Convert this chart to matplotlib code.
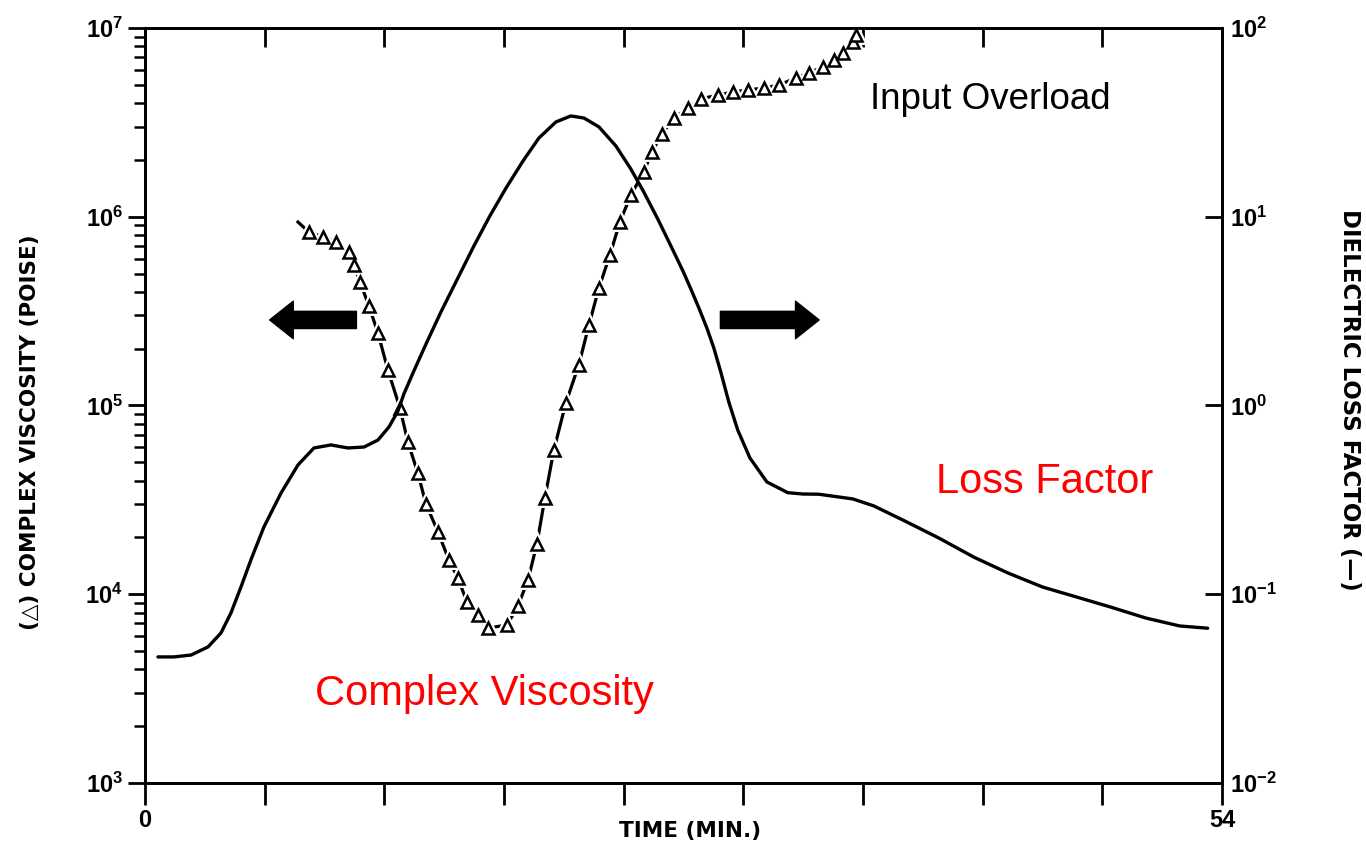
import math
import matplotlib
matplotlib.use("Agg")
import matplotlib.pyplot as plt
from matplotlib.ticker import LogLocator, FixedLocator, FuncFormatter, NullLocator

plt.rcParams['font.family'] = ['Liberation Sans', 'DejaVu Sans']
plt.rcParams['mathtext.fontset'] = 'custom'
plt.rcParams['mathtext.rm'] = 'Liberation Sans:bold'
plt.rcParams['mathtext.bf'] = 'Liberation Sans:bold'

# complex viscosity (poise) vs time (min), triangle data points
visc_time = [8.22, 8.92, 9.57, 10.23, 10.48, 10.78, 11.23, 11.68, 12.18, 12.78,
             13.18, 13.68, 14.09, 14.69, 15.24, 15.69, 16.14, 16.69, 17.19, 18.15,
             18.70, 19.20, 19.65, 20.05, 20.50, 21.10, 21.75, 22.26, 22.76, 23.31,
             23.81, 24.36, 25.01, 25.41, 25.91, 26.52, 27.22, 27.87, 28.72, 29.47,
             30.23, 31.03, 31.78, 32.63, 33.28, 33.98, 34.54, 34.99, 35.49, 35.64]
visc_log = [5.919, 5.893, 5.866, 5.813, 5.744, 5.654, 5.527, 5.384, 5.188, 4.987,
            4.807, 4.642, 4.478, 4.330, 4.181, 4.086, 3.959, 3.890, 3.821, 3.837,
            3.938, 4.075, 4.266, 4.510, 4.764, 5.013, 5.215, 5.427, 5.623, 5.797,
            5.972, 6.115, 6.237, 6.343, 6.438, 6.523, 6.576, 6.624, 6.645, 6.661,
            6.672, 6.682, 6.698, 6.735, 6.762, 6.793, 6.830, 6.868, 6.926, 6.963]
visc = [10 ** v for v in visc_log]
visc_start = (7.67, 10 ** 5.972)

# dielectric loss factor (-) vs time (min), continuous trace
loss_time = [0.65, 1.45, 2.31, 3.16, 3.81, 4.31, 4.81, 5.31, 5.96, 6.82,
             7.67, 8.47, 9.32, 10.18, 10.98, 11.68, 12.23, 12.68, 12.98, 13.48,
             14.09, 14.84, 15.69, 16.49, 17.29, 18.10, 18.95, 19.75, 20.60, 21.35,
             22.01, 22.76, 23.61, 24.36, 25.01, 25.71, 26.37, 26.97, 27.37, 27.77,
             28.17, 28.52, 28.87, 29.27, 29.72, 30.33, 31.18, 32.23, 33.00, 33.78,
             35.49, 36.54, 38.10, 39.80, 41.55, 43.26, 45.01, 46.72, 48.42, 50.18,
             51.88, 53.28]
loss_log = [-1.332, -1.332, -1.322, -1.279, -1.205, -1.099, -0.962, -0.818, -0.644, -0.464,
            -0.315, -0.225, -0.209, -0.225, -0.220, -0.183, -0.114, -0.030, 0.061, 0.183,
            0.326, 0.496, 0.676, 0.845, 1.004, 1.152, 1.295, 1.417, 1.502, 1.534,
            1.523, 1.476, 1.375, 1.253, 1.131, 0.988, 0.845, 0.713, 0.617, 0.517,
            0.411, 0.305, 0.177, 0.019, -0.130, -0.278, -0.405, -0.462, -0.469, -0.470,
            -0.495, -0.532, -0.612, -0.702, -0.803, -0.887, -0.962, -1.015, -1.068, -1.126,
            -1.168, -1.180]
loss = [10 ** v for v in loss_log]

time_ticks = [0, 6, 12, 18, 24, 30, 36, 42, 48, 54]

fig = plt.figure(figsize=(13.66, 8.46), dpi=100)
ax = fig.add_axes([145 / 1366, 1 - 783 / 846, (1222 - 145) / 1366, (783 - 28) / 846])
ax2 = ax.twinx()

ax.set_xlim(0, 54)
ax.set_yscale('log')
ax.set_ylim(1e3, 1e7)
ax2.set_yscale('log')
ax2.set_ylim(1e-2, 1e2)

# viscosity: line broken around each open triangle
ax.plot([visc_start[0]] + visc_time, [visc_start[1]] + visc, color='black', lw=2.3,
        zorder=3)
ax.plot(visc_time, visc, ls='none', marker='^', ms=9, mfc='white', mec='white',
        mew=5, zorder=4)
ax.plot(visc_time, visc, ls='none', marker='^', ms=9, mfc='white', mec='black',
        mew=1.8, zorder=5)

# loss factor
ax2.plot(loss_time, loss, color='black', lw=2.4, solid_capstyle='round',
         solid_joinstyle='round')

for s in ax.spines.values():
    s.set_linewidth(2)
for s in ax2.spines.values():
    s.set_linewidth(2)

fmt = FuncFormatter(lambda v, p: r'$\mathbf{10^{%d}}$' % round(math.log10(v)))
ax.yaxis.set_major_locator(LogLocator(base=10, numticks=10))
ax.yaxis.set_minor_locator(LogLocator(base=10, subs=range(2, 10), numticks=20))
ax.yaxis.set_major_formatter(fmt)
ax.yaxis.set_minor_formatter(FuncFormatter(lambda v, p: ''))
ax.tick_params(axis='y', which='major', direction='out', length=12, width=2,
               labelsize=17, pad=4)
ax.tick_params(axis='y', which='minor', direction='out', length=8, width=1.8)

ax2.yaxis.set_major_locator(LogLocator(base=10, numticks=10))
ax2.yaxis.set_minor_locator(NullLocator())
ax2.yaxis.set_major_formatter(fmt)
ax2.tick_params(axis='y', which='major', direction='in', length=12, width=2,
                labelsize=17, pad=6)

ax.xaxis.set_major_locator(FixedLocator(time_ticks))
ax.xaxis.set_major_formatter(FuncFormatter(
    lambda v, p: '%d' % v if v in (0, 54) else ''))
ax.tick_params(axis='x', which='major', direction='out', length=16, width=2,
               labelsize=17, pad=3, top=False)
for lbl in ax.get_xticklabels():
    lbl.set_fontweight('bold')
sec = ax.secondary_xaxis('top')
sec.xaxis.set_major_locator(FixedLocator(time_ticks))
sec.tick_params(direction='in', length=14, width=2, labelsize=0)
sec.xaxis.set_major_formatter(FuncFormatter(lambda v, p: ''))

lab = dict(fontweight='bold', family=['DejaVu Sans'], ha='center', va='center')
fig.text(690 / 1366, 1 - 831 / 846, 'TIME (MIN.)', fontsize=15.5, **lab)
fig.text(30 / 1366, 1 - 432 / 846, '(\u25b3) COMPLEX VISCOSITY (POISE)', rotation=90,
         fontsize=15.5, **lab)
fig.text(1349 / 1366, 1 - 400 / 846, 'DIELECTRIC LOSS FACTOR (\u2014)', rotation=-90,
         fontsize=16.5, **lab)

# direction arrows showing which axis each curve belongs to
arrow = dict(arrowstyle='simple,head_length=0.85,head_width=1.35,tail_width=0.62',
             fc='black', ec='black', shrinkA=0, shrinkB=0, mutation_scale=20)
ax.annotate('', xy=(6.25, 2.84e5), xytext=(10.6, 2.84e5), arrowprops=arrow)
ax.annotate('', xy=(33.8, 2.84e5), xytext=(28.85, 2.84e5), arrowprops=arrow)

ax.text(17.0, 2950, 'Complex Viscosity', color='red', fontsize=30, ha='center', va='center')
ax.text(45.1, 3.94e4, 'Loss Factor', color='red', fontsize=30, ha='center', va='center')
ax.text(42.4, 4.16e6, 'Input Overload', color='black', fontsize=26.5, ha='center',
        va='center')

fig.savefig('out.png', dpi=100)
